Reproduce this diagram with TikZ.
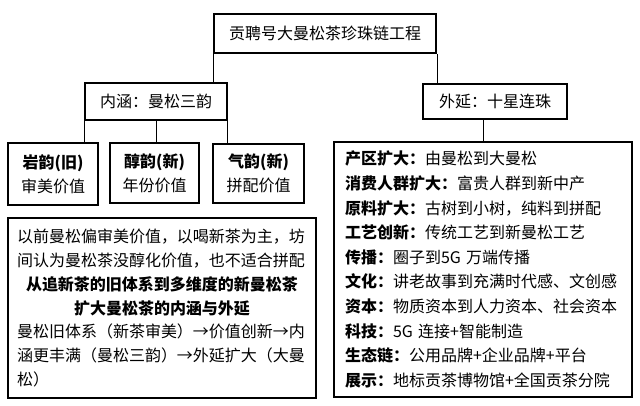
\documentclass[tikz,border=0pt]{standalone}
\usepackage{fontspec}
\setmainfont{Noto Sans CJK SC}
\usetikzlibrary{positioning}
\setlength{\parindent}{0pt}

\begin{document}
\begin{tikzpicture}[
    x=1pt, y=-1pt,
    font=\fontsize{16}{24}\selectfont,
    box/.style={
        rectangle,
        draw,
        line width=1.2pt,
        inner sep=0pt,
        align=center
    },
    thickbox/.style={box, line width=2pt},
    link/.style={line width=1pt}
]

\useasboundingbox (0,0) rectangle (640,406);

\node[thickbox, minimum width=222pt, minimum height=39pt] (project) at (325,33.5) {贡聘号大曼松茶珍珠链工程};
\node[box, minimum width=142pt, minimum height=37pt] (inner) at (156,101.5) {内涵：曼松三韵};
\node[thickbox, minimum width=144pt, minimum height=35pt] (outer) at (495,101.5) {外延：十星连珠};

\node[thickbox, minimum width=90pt, minimum height=62pt] (yan) at (53,174) {\textbf{岩韵(旧)}\\审美价值};
\node[box, minimum width=89pt, minimum height=60pt] (chun) at (154.5,173) {\textbf{醇韵(新)}\\年份价值};
\node[thickbox, minimum width=91pt, minimum height=59pt] (qi) at (258.5,173.5) {\textbf{气韵(新)}\\拼配价值};

\node[box, minimum width=308pt, minimum height=180pt, text width=290pt, align=left,
      font=\fontsize{16}{23.7}\selectfont] (story) at (162,308) {%
以前曼松偏审美价值，以喝新茶为主，坊\\
间认为曼松茶没醇化价值，也不适合拼配\par
{\centering\bfseries 从追新茶的旧体系到多维度的新曼松茶\\
扩大曼松茶的内涵与外延\par}
曼松旧体系（新茶审美）→价值创新→内\\
涵更丰满（曼松三韵）→外延扩大（大曼\\
松）};

\node[thickbox, minimum width=298pt, minimum height=255pt, text width=276pt, align=left,
      font=\fontsize{16}{24.6}\selectfont] (stars) at (483,269.5) {%
\textbf{产区扩大：}由曼松到大曼松\\
\textbf{消费人群扩大：}富贵人群到新中产\\
\textbf{原料扩大：}古树到小树，纯料到拼配\\
\textbf{工艺创新：}传统工艺到新曼松工艺\\
\textbf{传播：}圈子到5G 万端传播\\
\textbf{文化：}讲老故事到充满时代感、文创感\\
\textbf{资本：}物质资本到人力资本、社会资本\\
\textbf{科技：}5G 连接+智能制造\\
\textbf{生态链：}公用品牌+企业品牌+平台\\
\textbf{展示：}地标贡茶博物馆+全国贡茶分院};

\draw[link] (project.south west) -- (project.south west |- inner.north);
\draw[link] (project.south east) -- (project.south east |- outer.north);
\draw[link] (inner.south west) -- (inner.south west |- yan.north);
\draw[link] (inner.south) -- (inner.south |- chun.north);
\draw[link] (inner.south east) -- (inner.south east |- qi.north);
\draw[link] (outer.south -| stars.north) -- (stars.north);

\end{tikzpicture}
\end{document}
